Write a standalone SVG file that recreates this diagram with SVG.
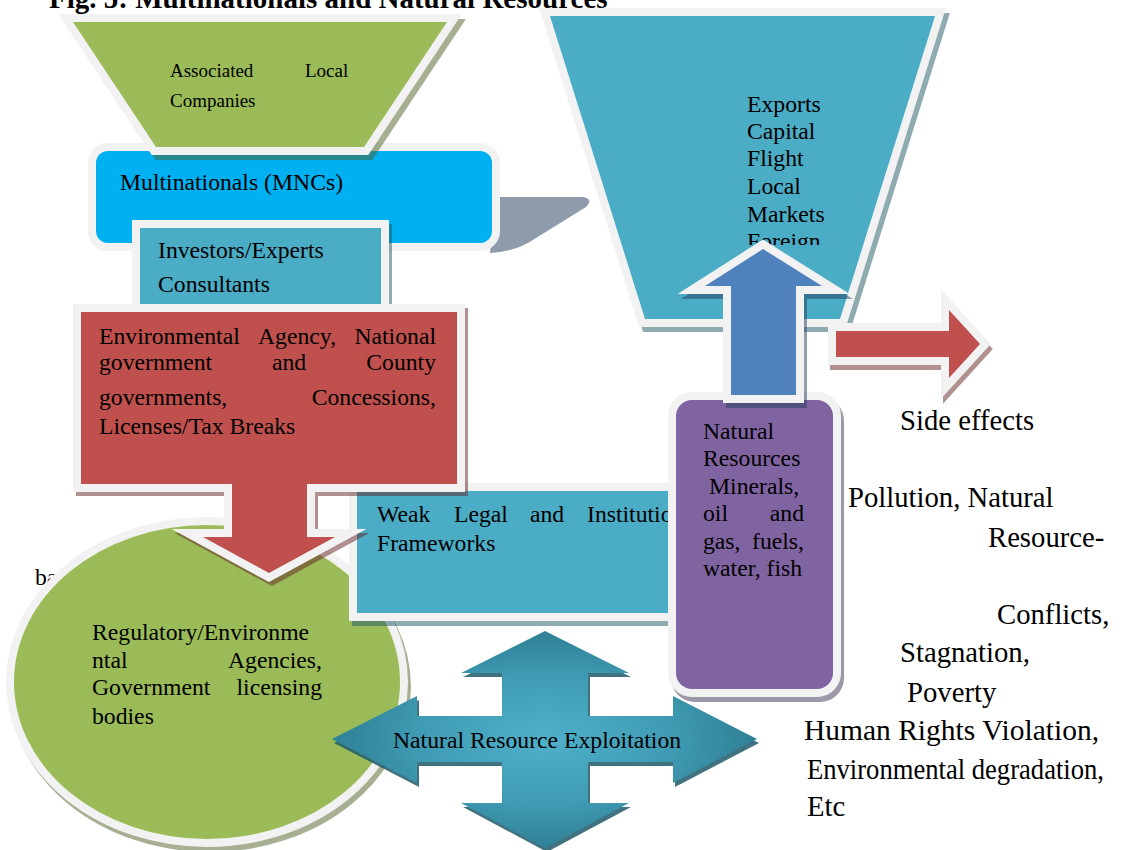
<svg xmlns="http://www.w3.org/2000/svg" width="1134" height="850" viewBox="0 0 1134 850">
<defs>
<style>
.t{font-family:"Liberation Serif","Times New Roman",serif;fill:#000}
.f23{font-size:23.7px}
.f19{font-size:19px}
.f28{font-size:28.7px}
.bd{stroke:#F2F2F2;stroke-width:16;paint-order:stroke;stroke-linejoin:miter;stroke-miterlimit:10}
.sh{stroke-width:16;stroke-linejoin:miter;stroke-miterlimit:10;opacity:.5}
</style>
<radialGradient id="g4" cx="0.5" cy="0.5" r="0.5">
<stop offset="0" stop-color="#4FB0CA"/>
<stop offset="0.6" stop-color="#3F9BB3"/>
<stop offset="1" stop-color="#2F8095"/>
</radialGradient>
<clipPath id="clipForeign"><rect x="700" y="225" width="140" height="20"/></clipPath>
</defs>
<rect width="1134" height="850" fill="#FFFFFF"/>

<g id="title">
<text class="t" x="49" y="8" font-size="29" font-weight="bold">Fig. 5: Multinationals and Natural Resources</text>
</g>

<g id="hidden-text">
<text class="t f23" x="35" y="585">ba</text>
</g>

<g id="mncs">
<path d="M495,197 H583 Q594,199 586,207 L536,238 Q516,252 490,253 Z" fill="#8E9BAA"/>
<rect x="96" y="151" width="396" height="92" rx="12" fill="#00B0F0" class="bd"/>
<text class="t f23" x="120" y="190">Multinationals (MNCs)</text>
</g>

<g id="associated-local-companies">
<path d="M73,22 L447,22 L364,147 L156,147 Z" class="sh" fill="#4F6228" stroke="#4F6228" transform="translate(4,5)"/>
<path d="M73,22 L447,22 L364,147 L156,147 Z" fill="#9BBB59" class="bd"/>
<text class="t f19" y="77"><tspan x="170">Associated</tspan><tspan x="305">Local</tspan></text>
<text class="t f19" x="170" y="107">Companies</text>
</g>

<g id="investors">
<rect x="140" y="228" width="241" height="90" class="sh" fill="#215968" stroke="#215968" transform="translate(3,4)"/>
<rect x="140" y="228" width="241" height="90" fill="#4BACC6" class="bd"/>
<text class="t f23" x="158" y="258">Investors/Experts</text>
<text class="t f23" x="158" y="292">Consultants</text>
</g>

<g id="regulatory">
<ellipse cx="207" cy="682" rx="193" ry="157" class="sh" fill="#4F6228" stroke="#4F6228" transform="translate(3,5)"/>
<ellipse cx="207" cy="682" rx="193" ry="157" fill="#9BBB59" class="bd"/>
<text class="t f23" x="92" y="640">Regulatory/Environme</text>
<text class="t f23" y="668"><tspan x="92">ntal</tspan><tspan x="322" text-anchor="end">Agencies,</tspan></text>
<text class="t f23" y="695"><tspan x="92">Government</tspan><tspan x="322" text-anchor="end">licensing</tspan></text>
<text class="t f23" x="92" y="724">bodies</text>
</g>

<g id="weak-legal">
<rect x="357" y="491" width="333" height="122" class="sh" fill="#215968" stroke="#215968" transform="translate(3,5)"/>
<rect x="357" y="491" width="333" height="122" fill="#4BACC6" class="bd"/>
<text class="t f23" y="522"><tspan x="377">Weak</tspan><tspan x="454">Legal</tspan><tspan x="530">and</tspan><tspan x="587">Institutional</tspan></text>
<text class="t f23" x="377" y="551">Frameworks</text>
</g>

<g id="government">
<path d="M81,312 H457 V484 H307 V537 H335 L269,573 L203,537 H232 V484 H81 Z" class="sh" fill="#632523" stroke="#632523" transform="translate(3,4)"/>
<path d="M81,312 H457 V484 H307 V537 H335 L269,573 L203,537 H232 V484 H81 Z" fill="#C0504D" class="bd"/>
<text class="t f23" y="344"><tspan x="99">Environmental</tspan><tspan x="258">Agency,</tspan><tspan x="436" text-anchor="end">National</tspan></text>
<text class="t f23" y="370"><tspan x="99">government</tspan><tspan x="272">and</tspan><tspan x="436" text-anchor="end">County</tspan></text>
<text class="t f23" y="405"><tspan x="99">governments,</tspan><tspan x="436" text-anchor="end">Concessions,</tspan></text>
<text class="t f23" x="99" y="434">Licenses/Tax Breaks</text>
</g>

<g id="exports">
<path d="M550,16 L935,16 L840,319 L645,319 Z" class="sh" fill="#215968" stroke="#215968" transform="translate(4,5)"/>
<path d="M550,16 L935,16 L840,319 L645,319 Z" fill="#4BACC6" class="bd"/>
<text class="t f23" x="747" y="112">Exports</text>
<text class="t f23" x="747" y="139">Capital</text>
<text class="t f23" x="747" y="166">Flight</text>
<text class="t f23" x="747" y="194">Local</text>
<text class="t f23" x="747" y="222">Markets</text>
<text class="t f23" x="747" y="249" clip-path="url(#clipForeign)">Foreign</text>
</g>

<g id="natural-resources">
<rect x="676" y="400" width="157" height="289" rx="16" class="sh" fill="#3F3151" stroke="#3F3151" transform="translate(3,5)"/>
<rect x="676" y="400" width="157" height="289" rx="16" fill="#8064A2" class="bd"/>
<text class="t f23" x="703" y="439">Natural</text>
<text class="t f23" x="703" y="466">Resources</text>
<text class="t f23" x="709" y="494">Minerals,</text>
<text class="t f23" y="521"><tspan x="703">oil</tspan><tspan x="804" text-anchor="end">and</tspan></text>
<text class="t f23" y="549"><tspan x="703">gas,</tspan><tspan x="804" text-anchor="end">fuels,</tspan></text>
<text class="t f23" x="703" y="576">water, fish</text>
</g>

<g id="connectors">
<path d="M836,331 H949 V310 L980,344 L949,378 V357 H836 Z" class="sh" fill="#632523" stroke="#632523" transform="translate(2,5)"/>
<path d="M836,331 H949 V310 L980,344 L949,378 V357 H836 Z" fill="#C0504D" class="bd"/>
<path d="M731,395 V286 H705 L763,249 L822,286 H796 V395 Z" class="sh" fill="#243F60" stroke="#243F60" transform="translate(3,5)"/>
<path d="M731,395 V286 H705 L763,249 L822,286 H796 V395 Z" fill="#4F81BD" class="bd"/>
</g>

<g id="exploitation">
<path d="M545,631 L629,673 H588 V716 H673 V696 L757,739 L673,783 V762 H588 V803 H629 L545,848 L461,803 H502 V762 H417 V783 L332,739 L417,696 V716 H502 V673 H461 Z" fill="#1F5A69" opacity="0.85" transform="translate(2,4)"/>
<path d="M545,631 L629,673 H588 V716 H673 V696 L757,739 L673,783 V762 H588 V803 H629 L545,848 L461,803 H502 V762 H417 V783 L332,739 L417,696 V716 H502 V673 H461 Z" fill="url(#g4)"/>
<text class="t f23" x="393" y="748">Natural Resource Exploitation</text>
</g>

<g id="side-effects">
<text class="t f28" x="900" y="430">Side effects</text>
<text class="t f28" x="848" y="507">Pollution, Natural</text>
<text class="t f28" x="988" y="547">Resource-</text>
<text class="t f28" x="997" y="624">Conflicts,</text>
<text class="t f28" x="900" y="662">Stagnation,</text>
<text class="t f28" x="907" y="702">Poverty</text>
<text class="t f28" x="804" y="740" textLength="295" lengthAdjust="spacingAndGlyphs">Human Rights Violation,</text>
<text class="t f28" x="807" y="779" textLength="297" lengthAdjust="spacingAndGlyphs">Environmental degradation,</text>
<text class="t f28" x="807" y="816">Etc</text>
</g>
</svg>
